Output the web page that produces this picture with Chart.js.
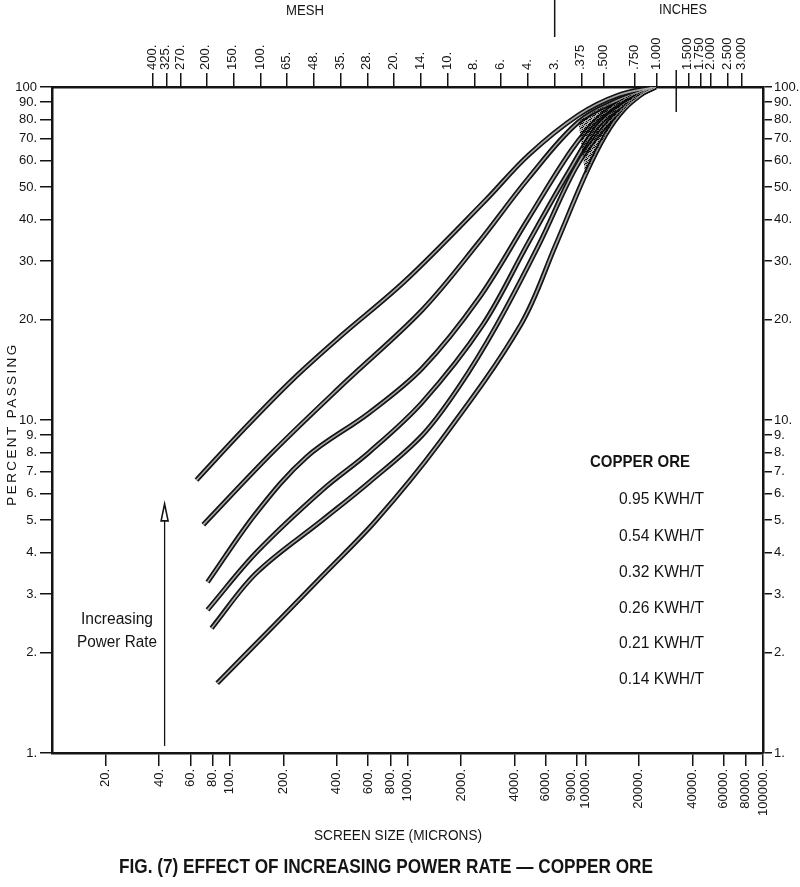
<!DOCTYPE html>
<html><head><meta charset="utf-8">
<script src="https://cdn.jsdelivr.net/npm/chart.js@4.4.1/dist/chart.umd.min.js"></script>
<style>html,body{margin:0;padding:0;background:#fff}canvas{display:block}</style>
</head><body>
<canvas id="c" width="800" height="887"></canvas>
<script>
// ---- data ----
const powerRates = ['0.95 KWH/T','0.54 KWH/T','0.32 KWH/T','0.26 KWH/T','0.21 KWH/T','0.14 KWH/T'];

const size095 = [65, 118, 225, 413, 980, 2760, 4800, 9160, 15400, 24800];
const pass095 = [6.6, 9.3, 13.2, 17.7, 26.3, 45.8, 62.5, 82.4, 94.6, 100];

const size054 = [71, 174, 440, 1210, 2520, 4800, 9160, 15400, 24800];
const pass054 = [4.85, 8.0, 12.9, 21.4, 34.2, 53.3, 78.5, 91.4, 100];

const size032 = [75, 141, 270, 608, 1210, 2520, 4800, 8370, 11900, 17500, 24800];
const pass032 = [3.26, 5.26, 7.74, 10.5, 14.3, 23.2, 40.4, 64.7, 80.7, 93.3, 100];

const size026 = [75, 141, 331, 608, 1210, 2650, 4800, 8050, 11900, 18700, 24800];
const pass026 = [2.69, 4.0, 6.16, 8.0, 11.3, 19.3, 34.2, 55.5, 76.9, 92.7, 100];

const size021 = [79, 141, 331, 608, 1210, 1950, 3180, 5470, 8820, 12700, 19100, 24800];
const pass021 = [2.37, 3.47, 5.0, 6.5, 9.0, 12.6, 19.3, 33.5, 57.1, 75.3, 92.7, 100];

const size014 = [85, 174, 331, 666, 1500, 4330, 6810, 10000, 13000, 16400, 21200, 24800];
const pass014 = [1.62, 2.39, 3.40, 5.0, 8.5, 19.3, 33.5, 54.4, 71.8, 85.3, 95.9, 100];

const percentTicks = [1,2,3,4,5,6,7,8,9,10,20,30,40,50,60,70,80,90,100];
const micronTicks = [20,40,60,80,100,200,400,600,800,1000,2000,4000,6000,9000,10000,20000,40000,60000,80000,100000];
const meshMicrons = [37,44,53,74,105,149,210,297,420,595,841,1190,1680,2380,3360,4760,6730,9525,12700,19050,25400,38100,44450,50800,63500,76200];
const meshLabels = ['400.','325.','270.','200.','150.','100.','65.','48.','35.','28.','20.','14.','10.','8.','6.','4.','3.','.375','.500','.750','1.000','1.500','1.750','2.000','2.500','3.000'];

const meshInchDivider = 6730;   // 3 mesh, where MESH | INCHES split
const inchBoundary = 32500;     // long tick between 1.000 and 1.500
const arrowSize = 43, arrowFrom = 1.05, arrowTo = 5.6;
const fanUpperSeries = 1, fanLowerSeries = 5;       // shaded convergence region between these curves
const fanUpperStart = 9000, fanLowerStart = 10000;  // ...beyond these sizes (microns)
const crowdedTick = 9000;       // label nudged left (crowds 10000.)

// ---- build ----
const FONT = "'Liberation Sans', Arial, Helvetica, sans-serif";
const INK = '#141414';
const mainCtx = document.getElementById('c').getContext('2d');

function stipple() {
  const c = document.createElement('canvas'); c.width = 4; c.height = 4;
  const g = c.getContext('2d');
  g.fillStyle = 'rgba(0,0,0,0.32)'; g.fillRect(0,0,4,4);
  g.fillStyle = 'rgba(0,0,0,0.9)';
  [[0,0],[2,1],[1,3],[3,2],[2,3]].forEach(([a,b]) => g.fillRect(a,b,1,1));
  return mainCtx.createPattern(c,'repeat');
}
const fanPattern = stipple();

const pts = (xs, ys) => xs.map((x,i) => ({x, y: ys[i]}));
const series = [
  [size095, pass095],[size054, pass054],[size032, pass032],
  [size026, pass026],[size021, pass021],[size014, pass014]
];

const datasets = [];
series.forEach(([xs, ys], i) => {
  const common = {data: pts(xs, ys), showLine: true, pointRadius: 0, tension: 0.35, borderCapStyle: 'butt', fill: false};
  datasets.push(Object.assign({label: powerRates[i], borderColor: '#a8a8a8', borderWidth: 1.6, order: 0}, common));
  datasets.push(Object.assign({label: powerRates[i] + ' edge', borderColor: INK, borderWidth: 5, order: 1}, common));
});

function tickFont(size) { return {family: FONT, size: size}; }

function txt(ctx, s, x, y, font, align, maxW) {
  ctx.font = font; ctx.textAlign = align || 'center'; ctx.textBaseline = 'middle'; ctx.fillStyle = INK;
  if (maxW) ctx.fillText(s, x, y, maxW); else ctx.fillText(s, x, y);
}

const fan = {
  id: 'fan',
  afterDatasetsDraw(chart) {
    const {ctx, chartArea, scales} = chart;
    const upMeta = chart.getDatasetMeta(fanUpperSeries * 2 + 1).data;
    const loMeta = chart.getDatasetMeta(fanLowerSeries * 2 + 1).data;
    const upMin = scales.x.getPixelForValue(fanUpperStart), loMin = scales.x.getPixelForValue(fanLowerStart);
    const up = upMeta.filter(p => p.x >= upMin - 0.5);
    const lo = loMeta.filter(p => p.x >= loMin - 0.5);
    if (up.length < 2 || lo.length < 2) return;
    ctx.save();
    ctx.beginPath(); ctx.rect(chartArea.left, chartArea.top, chartArea.right - chartArea.left, chartArea.bottom - chartArea.top); ctx.clip();
    ctx.beginPath();
    ctx.moveTo(up[0].x, up[0].y);
    for (let i = 1; i < up.length; i++) {
      const a = up[i-1], b = up[i];
      ctx.bezierCurveTo(a.cp2x, a.cp2y, b.cp1x, b.cp1y, b.x, b.y);
    }
    ctx.lineTo(lo[lo.length-1].x, lo[lo.length-1].y);
    for (let i = lo.length - 1; i > 0; i--) {
      const b = lo[i], a = lo[i-1];
      ctx.bezierCurveTo(b.cp1x, b.cp1y, a.cp2x, a.cp2y, a.x, a.y);
    }
    ctx.closePath();
    ctx.fillStyle = fanPattern; ctx.fill();
    ctx.restore();
  }
};

const deco = {
  id: 'deco',
  afterDraw(chart) {
    const {ctx, scales} = chart;
    const xt = scales.xTop, xb = scales.x, y = scales.y;
    ctx.save();
    ctx.strokeStyle = INK; ctx.lineWidth = 1.5;
    // MESH | INCHES divider
    const dx = xt.getPixelForValue(meshInchDivider);
    ctx.beginPath(); ctx.moveTo(dx, 0); ctx.lineTo(dx, 37); ctx.stroke();
    // long boundary tick
    const bx = xt.getPixelForValue(inchBoundary);
    ctx.beginPath(); ctx.moveTo(bx, 70); ctx.lineTo(bx, 112); ctx.stroke();
    // crowded bottom label drawn nudged
    ctx.save();
    ctx.translate(xb.getPixelForValue(crowdedTick) - 6, xb.top + 16);
    ctx.rotate(-Math.PI/2);
    txt(ctx, crowdedTick + '.', 0, 0, `13px ${FONT}`, 'right');
    ctx.restore();
    // headers
    txt(ctx, 'MESH', 305, 11, `15px ${FONT}`, 'center', 38);
    txt(ctx, 'INCHES', 683, 10, `15px ${FONT}`, 'center', 48);
    // y title
    ctx.save();
    ctx.translate(12, 424); ctx.rotate(-Math.PI/2);
    ctx.letterSpacing = '2.4px';
    txt(ctx, 'PERCENT PASSING', 0, 0, `13.5px ${FONT}`, 'center');
    ctx.restore();
    // x title + caption
    txt(ctx, 'SCREEN SIZE (MICRONS)', 398, 836, `15px ${FONT}`, 'center', 168);
    txt(ctx, 'FIG. (7) EFFECT OF INCREASING POWER RATE \u2014 COPPER ORE', 386, 867, `bold 20px ${FONT}`, 'center', 534);
    // legend text
    txt(ctx, 'COPPER ORE', 590, 462, `bold 17px ${FONT}`, 'left', 100);
    const ly = [499, 536, 572, 608, 643, 679];
    powerRates.forEach((r, i) => txt(ctx, r, 619, ly[i], `17px ${FONT}`, 'left', 85));
    // increasing power rate arrow
    txt(ctx, 'Increasing', 117, 620, `16px ${FONT}`, 'center', 72);
    txt(ctx, 'Power Rate', 117, 643, `16px ${FONT}`, 'center', 80);
    const ax = xb.getPixelForValue(arrowSize);
    const ay0 = y.getPixelForValue(arrowFrom), ay1 = y.getPixelForValue(arrowTo);
    ctx.lineWidth = 1.3;
    ctx.beginPath(); ctx.moveTo(ax, ay0); ctx.lineTo(ax, ay1 + 17); ctx.stroke();
    ctx.beginPath(); ctx.moveTo(ax, ay1); ctx.lineTo(ax - 3.5, ay1 + 17); ctx.lineTo(ax + 3.5, ay1 + 17); ctx.closePath();
    ctx.fillStyle = '#fff'; ctx.fill(); ctx.lineWidth = 1.6; ctx.stroke();
    ctx.restore();
  }
};

const gridOpts = (len) => ({drawOnChartArea: false, drawTicks: true, tickLength: len, color: INK, lineWidth: 1.5});
const borderOpts = {display: true, color: INK, width: 2.5};

new Chart(mainCtx, {
  type: 'scatter',
  data: {datasets},
  plugins: [fan, deco],
  options: {
    responsive: false, animation: false, devicePixelRatio: 1,
    layout: {padding: 0},
    plugins: {legend: {display: false}, tooltip: {enabled: false}},
    scales: {
      x: {
        type: 'logarithmic', position: 'bottom', min: 10, max: 100000,
        afterBuildTicks: s => { s.ticks = micronTicks.map(v => ({value: v})); },
        afterFit: s => { s.height = 134; },
        ticks: {autoSkip: false, minRotation: 90, maxRotation: 90, padding: 3, color: INK, font: tickFont(13),
          callback: v => v === crowdedTick ? '' : v + '.'},
        grid: gridOpts(13), border: borderOpts
      },
      xTop: {
        type: 'logarithmic', position: 'top', min: 10, max: 100000,
        afterBuildTicks: s => { s.ticks = meshMicrons.map(v => ({value: v})); },
        afterFit: s => { s.height = 87; },
        ticks: {autoSkip: false, minRotation: 90, maxRotation: 90, padding: 3, labelOffset: 15, color: INK, font: tickFont(13),
          callback: (v, i) => meshLabels[i]},
        grid: gridOpts(14), border: borderOpts
      },
      y: {
        type: 'logarithmic', position: 'left', min: 1, max: 100,
        afterBuildTicks: s => { s.ticks = percentTicks.map(v => ({value: v})); },
        afterFit: s => { s.width = 52; },
        ticks: {autoSkip: false, padding: 3, color: INK, font: tickFont(13),
          callback: v => v === 100 ? '100' : v + '.'},
        grid: gridOpts(12), border: borderOpts
      },
      y2: {
        type: 'logarithmic', position: 'right', min: 1, max: 100,
        afterBuildTicks: s => { s.ticks = percentTicks.map(v => ({value: v})); },
        afterFit: s => { s.width = 37; },
        ticks: {autoSkip: false, padding: 2, color: INK, font: tickFont(13),
          callback: v => v + '.'},
        grid: gridOpts(9), border: borderOpts
      }
    }
  }
});
</script>
</body></html>
